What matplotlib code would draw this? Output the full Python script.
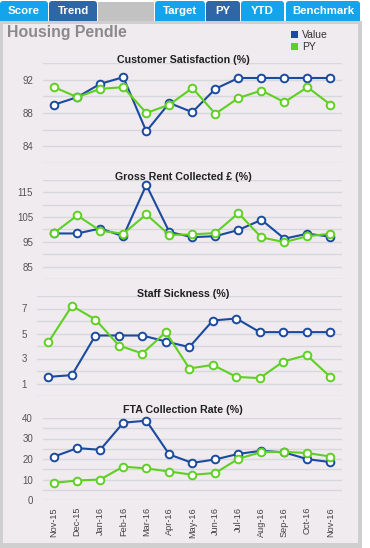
import numpy as np
import matplotlib
matplotlib.use("Agg")
import matplotlib.pyplot as plt
from matplotlib.patches import Rectangle, FancyBboxPatch

plt.rcParams['font.family'] = ['Liberation Sans', 'DejaVu Sans']

# dados
months = ["Nov-15", "Dec-15", "Jan-16", "Feb-16", "Mar-16", "Apr-16", "May-16",
          "Jun-16", "Jul-16", "Aug-16", "Sep-16", "Oct-16", "Nov-16"]

cust_value = [89.0, 89.9, 91.5, 92.3, 85.8, 89.2, 88.1, 90.9, 92.2, 92.2, 92.2, 92.2, 92.2]
cust_py = [91.1, 89.9, 90.9, 91.1, 88.0, 89.0, 91.0, 87.9, 89.8, 90.7, 89.3, 91.1, 89.0]

rent_value = [98.4, 98.4, 100.4, 97.3, 118.0, 99.0, 96.9, 97.3, 99.8, 103.9, 96.3, 98.3, 97.1]
rent_py = [98.6, 105.7, 99.5, 98.3, 106.1, 97.8, 98.0, 98.6, 106.6, 96.8, 94.9, 97.3, 98.3]

sick_value = [1.53, 1.67, 4.84, 4.84, 4.84, 4.36, 3.91, 6.04, 6.2, 5.11, 5.11, 5.11, 5.11]
sick_py = [4.31, 7.21, 6.12, 4.04, 3.4, 5.11, 2.2, 2.49, 1.53, 1.43, 2.76, 3.27, 1.53]

fta_value = [21.2, 25.3, 24.5, 37.7, 38.7, 22.2, 18.1, 19.8, 22.5, 24.0, 23.2, 19.9, 18.5]
fta_py = [8.4, 9.5, 10.0, 16.3, 15.4, 13.9, 12.3, 13.2, 20.1, 23.4, 23.5, 22.9, 21.2]

tabs = ["Score", "Trend", "Target", "PY", "YTD", "Benchmark"]

BLUE = "#1b4a9f"
GREEN = "#5fd022"
LIGHT_TAB = "#14a4ec"
DARK_TAB = "#2f67a6"

W, H = 370, 548
fig = plt.figure(figsize=(W / 100, H / 100), dpi=100)

# fundo desenhado em coordenadas de pixel
bg = fig.add_axes([0, 0, 1, 1])
bg.set_xlim(0, W)
bg.set_ylim(H, 0)
bg.axis('off')

bg.add_patch(Rectangle((0, 21), 362, 527, color="#cfcfcf", lw=0))
bg.add_patch(Rectangle((3, 24), 355, 519, color="#efebef", lw=0))

# abas
tab_pos = [(0, 48), (49, 97), (155, 205), (206, 240), (241, 284), (286, 360)]
bg.add_patch(Rectangle((98, 2), 56, 20, color="#c2c2c2", lw=0))
for name, (x0, x1) in zip(tabs, tab_pos):
    cor = DARK_TAB if name in ("Trend", "PY") else LIGHT_TAB
    bg.add_patch(FancyBboxPatch((x0, 1), x1 - x0, 23,
                                boxstyle="round,pad=0,rounding_size=3",
                                color=cor, lw=0))
    bg.text((x0 + x1) / 2, 11.5, name, ha='center', va='center', color='white',
            fontsize=8.2, fontweight='bold')
bg.add_patch(Rectangle((0, 21), 362, 3, color="#cfcfcf", lw=0))

bg.text(7, 33, "Housing Pendle", ha='left', va='center', fontsize=11.4,
        fontweight='bold', color="#8a8a8a")

# legenda
bg.add_patch(Rectangle((291, 31), 7, 7, color=BLUE, lw=0))
bg.add_patch(Rectangle((291, 43), 7, 7, color=GREEN, lw=0))
bg.text(302, 35, "Value", va='center', fontsize=7.5, color="#333333")
bg.text(302, 47, "PY", va='center', fontsize=7.5, color="#333333")

charts = [
    ("Customer Satisfaction (%)", cust_value, cust_py, (82, 94), 2, [84, 88, 92],
     (42.7, 63, 342, 163), 60),
    ("Gross Rent Collected £ (%)", rent_value, rent_py, (80, 120), 5, [85, 95, 105, 115],
     (42.7, 180, 342, 279), 177),
    ("Staff Sickness (%)", sick_value, sick_py, (0, 8), 1, [1, 3, 5, 7],
     (36.7, 296, 342, 396), 294),
    ("FTA Collection Rate (%)", fta_value, fta_py, (0, 40), 5, [0, 10, 20, 30, 40],
     (42.7, 418, 342, 500), 410),
]

x = np.arange(len(months))
for i, (title, val, py, (lo, hi), step, labels, (x0, y0, x1, y1), ty) in enumerate(charts):
    ax = fig.add_axes([x0 / W, 1 - y1 / H, (x1 - x0) / W, (y1 - y0) / H])
    ax.patch.set_alpha(0)
    ax.set_xlim(-0.5, len(months) - 0.5)
    ax.set_ylim(lo, hi)
    grid = np.arange(lo, hi + step / 2, step)
    ax.set_yticks(grid)
    ax.set_yticklabels([str(int(g)) if g in labels else "" for g in grid])
    ax.grid(axis='y', color="#d8d8dc", lw=1)
    ax.set_axisbelow(True)
    for s in ax.spines.values():
        s.set_visible(False)
    ax.tick_params(axis='y', length=0, pad=7, labelsize=7, labelcolor="#555555")
    ax.set_xticks(x)
    if i == len(charts) - 1:
        ax.set_xticklabels(months, rotation=90)
        ax.tick_params(axis='x', length=0, pad=5, labelsize=6.6, labelcolor="#444444")
    else:
        ax.set_xticklabels([])
        ax.tick_params(axis='x', length=0)

    ax.plot(x, val, color=BLUE, lw=1.5, marker='o', markersize=5.5,
            markerfacecolor='white', markeredgewidth=1.4, clip_on=False, zorder=3)
    ax.plot(x, py, color=GREEN, lw=1.5, marker='o', markersize=5.5,
            markerfacecolor='white', markeredgewidth=1.4, clip_on=False, zorder=4)

    # título por cima das linhas de grade
    fig.text(183 / W, 1 - ty / H, title, ha='center', va='center', fontsize=7.7,
             fontweight='bold', color="#222222", zorder=10)

fig.savefig("out.png", dpi=100)
